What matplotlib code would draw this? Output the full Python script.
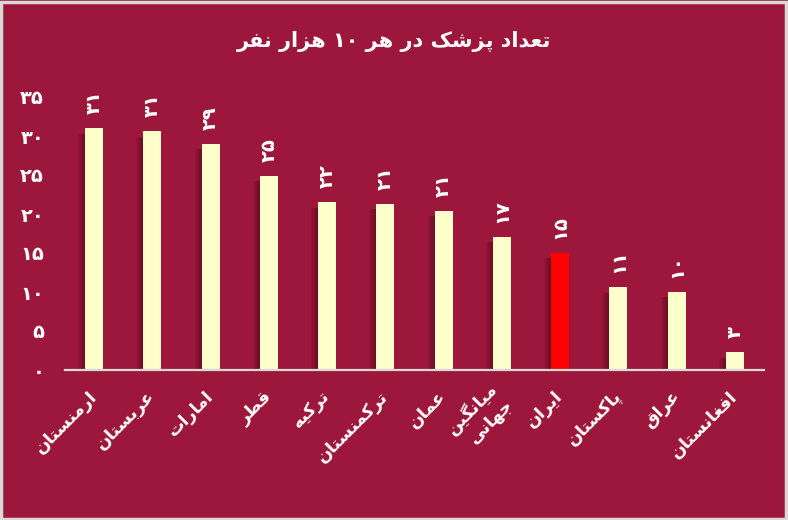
import matplotlib
matplotlib.use("Agg")
import matplotlib.pyplot as plt
from matplotlib.patches import Rectangle

# data
countries = ["ارمنستان", "عربستان", "امارات", "قطر", "ترکیه", "ترکمنستان",
             "عمان", "میانگین\nجهانی", "ایران", "پاکستان", "عراق", "افغانستان"]
values = [31.0, 30.6, 29.0, 24.9, 21.5, 21.3, 20.4, 17.1, 15.0, 10.6, 10.0, 2.3]
value_labels = ["۳۱", "۳۱", "۲۹", "۲۵", "۲۲", "۲۱", "۲۱", "۱۷", "۱۵", "۱۱", "۱۰", "۳"]
yticks = [0, 5, 10, 15, 20, 25, 30, 35]
ytick_labels = ["۰", "۵", "۱۰", "۱۵", "۲۰", "۲۵", "۳۰", "۳۵"]
title = "تعداد پزشک در هر ۱۰ هزار نفر"
highlight = "ایران"

bg = "#9d173c"
bar_color = "#ffffcc"
hl_color = "#ff0000"

# --- simple persian shaping (no reshaper lib available) ---
# isolated, final, initial, medial
FORMS = {
    "ا": ("\uFE8D", "\uFE8E", None, None),
    "ب": ("\uFE8F", "\uFE90", "\uFE91", "\uFE92"),
    "ت": ("\uFE95", "\uFE96", "\uFE97", "\uFE98"),
    "ج": ("\uFE9D", "\uFE9E", "\uFE9F", "\uFEA0"),
    "د": ("\uFEA9", "\uFEAA", None, None),
    "ر": ("\uFEAD", "\uFEAE", None, None),
    "ز": ("\uFEAF", "\uFEB0", None, None),
    "س": ("\uFEB1", "\uFEB2", "\uFEB3", "\uFEB4"),
    "ش": ("\uFEB5", "\uFEB6", "\uFEB7", "\uFEB8"),
    "ط": ("\uFEC1", "\uFEC2", "\uFEC3", "\uFEC4"),
    "ع": ("\uFEC9", "\uFECA", "\uFECB", "\uFECC"),
    "غ": ("\uFECD", "\uFECE", "\uFECF", "\uFED0"),
    "ف": ("\uFED1", "\uFED2", "\uFED3", "\uFED4"),
    "ق": ("\uFED5", "\uFED6", "\uFED7", "\uFED8"),
    "م": ("\uFEE1", "\uFEE2", "\uFEE3", "\uFEE4"),
    "ن": ("\uFEE5", "\uFEE6", "\uFEE7", "\uFEE8"),
    "ه": ("\uFEE9", "\uFEEA", "\uFEEB", "\uFEEC"),
    "و": ("\uFEED", "\uFEEE", None, None),
    "پ": ("\uFB56", "\uFB57", "\uFB58", "\uFB59"),
    "ک": ("\uFB8E", "\uFB8F", "\uFB90", "\uFB91"),
    "گ": ("\uFB92", "\uFB93", "\uFB94", "\uFB95"),
    "ی": ("\uFBFC", "\uFBFD", "\uFBFE", "\uFBFF"),
}
DIGITS = "۰۱۲۳۴۵۶۷۸۹0123456789"


def shape_word(w):
    out = []
    for i, ch in enumerate(w):
        if ch not in FORMS:
            out.append(ch)
            continue
        prev = w[i - 1] if i > 0 else None
        nxt = w[i + 1] if i + 1 < len(w) else None
        jp = prev in FORMS and FORMS[prev][2] is not None
        jn = nxt in FORMS and FORMS[ch][2] is not None
        iso, fin, ini, med = FORMS[ch]
        if jp and jn:
            out.append(med)
        elif jp:
            out.append(fin)
        elif jn:
            out.append(ini)
        else:
            out.append(iso)
    return "".join(out)


def fa(text):
    lines = []
    for line in text.split("\n"):
        words = []
        for w in line.split(" "):
            if all(c in DIGITS for c in w):
                words.append(w)
            else:
                words.append(shape_word(w)[::-1])
        lines.append(" ".join(words[::-1]))
    return "\n".join(lines)


plt.rcParams["font.family"] = ["DejaVu Sans"]

fig = plt.figure(figsize=(7.88, 5.20), dpi=100, facecolor=bg)
ax = fig.add_axes([65 / 788, 150 / 520, 699 / 788, 273 / 520])
ax.set_facecolor(bg)

x = list(range(len(values)))
colors = [hl_color if c == highlight else bar_color for c in countries]
width = 0.31
px = 1 / 58.25  # one pixel in data units along x

# soft shadow on the left of every bar
for k in range(1, 8):
    ax.bar([i - k * px for i in x], [v - 0.7 for v in values], width=width,
           color="#3a0512", alpha=0.08, zorder=1, linewidth=0)

ax.bar(x, values, width=width, color=colors, zorder=3, linewidth=0)

for i, v in enumerate(values):
    ax.annotate(value_labels[i], (i, v), xytext=(0, 10), textcoords="offset points",
                rotation=90, ha="center", va="bottom", color="white",
                fontsize=14, fontweight="bold", annotation_clip=False)

ax.set_xlim(-0.5, len(values) - 0.5)
ax.set_ylim(0, 35)
ax.set_yticks(yticks)
ax.set_yticklabels(ytick_labels, fontsize=14, fontweight="bold", color="white")
ax.tick_params(axis="y", length=0, pad=15)
ax.set_xticks(x)
ax.set_xticklabels([fa(c) for c in countries], rotation=45, ha="right", va="center",
                   rotation_mode="anchor", fontsize=12.5, fontweight="bold",
                   color="white", multialignment="right")
ax.tick_params(axis="x", length=0, pad=17)

for s in ["top", "right", "left"]:
    ax.spines[s].set_visible(False)
ax.spines["bottom"].set_color("#d9d9d9")
ax.spines["bottom"].set_linewidth(1.6)
ax.spines["bottom"].set_zorder(4)

fig.text(0.5, 1 - 42 / 520, fa(title), ha="center", va="center", color="white",
         fontsize=15, fontweight="bold")

# light grey frame around the picture
fig.patches.append(Rectangle((0.001, 0.002), 0.996, 0.994, transform=fig.transFigure,
                             fill=False, edgecolor="#d9d9d9", linewidth=2.5))

fig.savefig("out.png", dpi=100, facecolor=bg)
